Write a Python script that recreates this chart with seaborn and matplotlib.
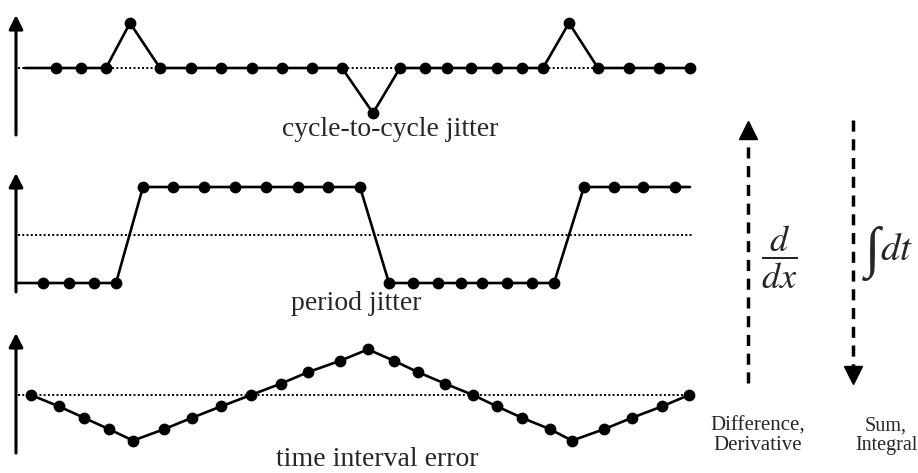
"""
Jitter definitions: cycle-to-cycle jitter, period jitter and time interval error
"""

import matplotlib
matplotlib.use("Agg")
import matplotlib.pyplot as plt
import numpy as np
import seaborn as sns

# ─── Data (sample times) ─────────────────────────────────────────────────────

W, H = 918, 473

c2c_t = [56, 81, 106, 130, 160, 191, 221, 252, 282, 312, 342, 373,
         400, 425, 447, 471, 497, 522, 543, 569, 598, 629, 659, 690]
c2c_val = [0, 0, 0, 1, 0, 0, 0, 0, 0, 0, 0, -1,
           0, 0, 0, 0, 0, 0, 0, 1, 0, 0, 0, 0]
c2c_lead_t = 25

period_t = [43, 69, 94, 116, 143, 173, 204, 235, 266, 298, 328, 360,
            389, 413, 438, 461, 482, 507, 532, 554, 584, 614, 643, 675]
period_val = [-1, -1, -1, -1, 1, 1, 1, 1, 1, 1, 1, 1,
              -1, -1, -1, -1, -1, -1, -1, -1, 1, 1, 1, 1]
period_lead_t = 16
period_tail_t = 690

tie_t = [31, 59, 84, 109, 133, 164, 192, 221, 251, 281, 308, 340, 368,
         394, 418, 445, 473, 497, 522, 550, 572, 604, 632, 662, 689]
tie_val = [0, -1, -2, -3, -4, -3, -2, -1, 0, 1, 2, 3, 4,
           3, 2, 1, 0, -1, -2, -3, -4, -3, -2, -1, 0]

panel_labels = ["cycle-to-cycle jitter", "period jitter", "time interval error"]

# ─── Layout (pixels): top, bottom, zero line, pixels per unit ────────────────

PANELS = [(15, 135, 68, 45), (173, 292, 235, 48), (333, 453, 395, 11.4)]
LABEL_POS = [(390, 130), (356, 303), (377, 459)]
AX_LEFT = 16


def px(x, y):
    return x / W, 1 - y / H


def make_panel(fig, top, bottom, zero, scale):
    ax = fig.add_axes([AX_LEFT / W, 1 - bottom / H, (W - AX_LEFT) / W, (bottom - top) / H])
    ax.set_xlim(AX_LEFT, W)
    ax.set_ylim((zero - bottom) / scale, (zero - top) / scale)
    ax.axis("off")
    # vertical axis with arrow head
    ax.annotate("", xy=(0, 1), xytext=(0, 0), xycoords="axes fraction",
                arrowprops=dict(arrowstyle="-|>,head_length=0.6,head_width=0.3",
                                lw=2.2, color="black", mutation_scale=14,
                                shrinkA=0, shrinkB=0))
    return ax


def draw_series(ax, t, v, line_t, line_v, dotted_end):
    ax.hlines(0, AX_LEFT + 2, dotted_end, color="black", lw=1.4,
              linestyles=(0, (1, 1.2)), zorder=1)
    sns.lineplot(x=line_t, y=line_v, ax=ax, color="black", lw=1.9,
                 sort=False, estimator=None, zorder=2)
    sns.scatterplot(x=t, y=v, ax=ax, color="black", s=72, linewidth=0,
                    zorder=3, clip_on=False)


sns.set_theme(style="white")
plt.rcParams["font.family"] = ["Liberation Serif", "DejaVu Serif"]
plt.rcParams["mathtext.fontset"] = "stix"

fig = plt.figure(figsize=(W / 100, H / 100), dpi=100)

ax1 = make_panel(fig, *PANELS[0])
draw_series(ax1, c2c_t, c2c_val, [c2c_lead_t] + c2c_t, [0] + c2c_val, 697)

ax2 = make_panel(fig, *PANELS[1])
draw_series(ax2, period_t, period_val,
            [period_lead_t] + period_t + [period_tail_t],
            [period_val[0]] + period_val + [period_val[-1]], 692)

ax3 = make_panel(fig, *PANELS[2])
draw_series(ax3, tie_t, tie_val, tie_t, tie_val, 689)

for label, (x, y) in zip(panel_labels, LABEL_POS):
    fig.text(*px(x, y), label, ha="center", va="center", fontsize=20)

# ─── Right side: derivative / integral arrows ────────────────────────────────

ov = fig.add_axes([0, 0, 1, 1])
ov.set_xlim(0, W)
ov.set_ylim(H, 0)
ov.axis("off")
ov.patch.set_alpha(0)

dash = (0, (3.2, 2.2))
ov.plot([748, 748], [383, 136], color="black", lw=2.5, linestyle=dash)
ov.plot(748, 130, marker="^", ms=13, color="black")
ov.plot([853, 853], [120, 369], color="black", lw=2.5, linestyle=dash)
ov.plot(853, 375, marker="v", ms=13, color="black")

ov.text(779, 257, r"$\dfrac{d}{dx}$", ha="center", va="center", fontsize=26)
ov.text(872, 253, "\u222b", ha="center", va="center", fontsize=40)
ov.text(880, 250, r"$dt$", ha="left", va="center", fontsize=28)

ov.text(758, 436, "Difference,\nDerivative", ha="center", va="center",
        fontsize=15, linespacing=1.05)
ov.text(886, 436, "Sum,\nIntegral", ha="center", va="center",
        fontsize=14.5, linespacing=1.05)

fig.savefig("out.png", dpi=100)
plt.close(fig)
